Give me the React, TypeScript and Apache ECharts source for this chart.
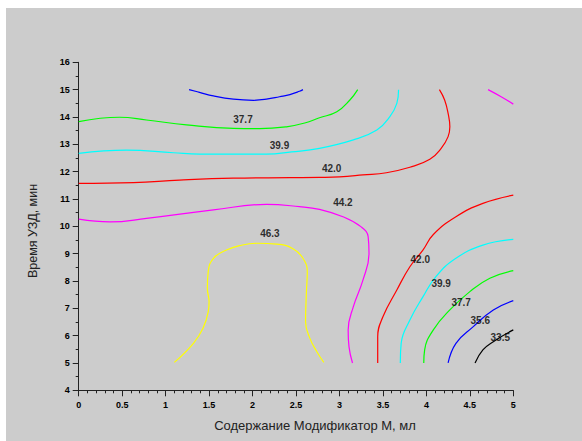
import React, { useEffect, useRef } from "react";
import * as echarts from "echarts";

// Contour levels and colours
const levels = [33.5, 35.6, 37.7, 39.9, 42.0, 44.2, 46.3];
const levelColors = ["#000000", "#0000ff", "#00ff00", "#00ffff", "#ff0000", "#ff00ff", "#ffff00"];

// Contour polylines [x, y]
const blueTop = [[1.27, 15.0], [1.39, 14.9], [1.55, 14.77], [1.78, 14.65], [2.01, 14.61], [2.16, 14.65], [2.31, 14.74], [2.43, 14.82], [2.54, 14.94], [2.58, 15.0]];
const greenTop = [[0, 13.83], [0.47, 13.99], [0.78, 13.89], [1.24, 13.71], [1.78, 13.58], [2.08, 13.57], [2.39, 13.64], [2.6, 13.78], [2.77, 13.97], [2.97, 14.19], [3.12, 14.62], [3.21, 15.0]];
const cyanTop = [[0, 12.67], [0.55, 12.79], [1.09, 12.69], [1.39, 12.64], [2.16, 12.64], [2.45, 12.72], [2.77, 12.85], [3.16, 13.16], [3.43, 13.52], [3.58, 14.01], [3.66, 14.5], [3.68, 15.0]];
const redTop = [[0, 11.57], [0.63, 11.6], [1.16, 11.69], [1.78, 11.76], [2.43, 11.78], [2.77, 11.79], [3.0, 11.81], [3.27, 11.88], [3.54, 11.96], [3.81, 12.16], [4.04, 12.45], [4.17, 12.85], [4.25, 13.28], [4.27, 13.64], [4.25, 14.13], [4.21, 14.62], [4.15, 15.0]];
const magentaTopRight = [[4.71, 15.0], [4.86, 14.74], [5.0, 14.47]];
const magentaMid = [[0, 10.26], [0.36, 10.16], [0.78, 10.29], [1.55, 10.6], [2.16, 10.8], [2.54, 10.72], [2.77, 10.62], [3.04, 10.35], [3.25, 9.98], [3.33, 9.62], [3.34, 9.01], [3.27, 8.03], [3.16, 7.06], [3.1, 6.21], [3.11, 5.59], [3.15, 5.0]];
const yellowMid = [[1.1, 5.02], [1.32, 5.72], [1.43, 6.27], [1.49, 6.87], [1.5, 7.24], [1.48, 7.73], [1.49, 8.34], [1.55, 8.83], [1.7, 9.13], [1.85, 9.29], [2.05, 9.38], [2.28, 9.35], [2.47, 9.17], [2.58, 8.83], [2.63, 8.34], [2.62, 7.61], [2.61, 6.51], [2.66, 5.9], [2.74, 5.41], [2.82, 5.02]];
const redLow = [[5.0, 11.14], [4.65, 10.84], [4.34, 10.35], [4.08, 9.7], [3.96, 9.13], [3.81, 8.52], [3.66, 7.67], [3.5, 6.69], [3.44, 5.96], [3.44, 5.0]];
const cyanLow = [[5.0, 9.52], [4.65, 9.31], [4.34, 8.83], [4.11, 8.16], [3.96, 7.42], [3.81, 6.57], [3.71, 5.72], [3.7, 5.0]];
const greenLow = [[5.0, 8.38], [4.73, 8.1], [4.5, 7.61], [4.27, 6.94], [4.08, 6.21], [3.98, 5.48], [3.97, 5.0]];
const blueLow = [[5.0, 7.28], [4.77, 6.94], [4.54, 6.33], [4.34, 5.72], [4.25, 5.0]];
const blackLow = [[5.0, 6.21], [4.77, 5.78], [4.65, 5.48], [4.56, 5.0]];

// Contour labels [x, y, level]
const contourLabels = [
  [1.89, 13.91, 37.7],
  [2.31, 12.96, 39.9],
  [2.91, 12.12, 42.0],
  [3.04, 10.86, 44.2],
  [2.2, 9.74, 46.3],
  [3.93, 8.8, 42.0],
  [4.17, 7.91, 39.9],
  [4.4, 7.2, 37.7],
  [4.62, 6.57, 35.6],
  [4.85, 5.94, 33.5],
];

const xTitle = "Содержание Модификатор М, мл";
const yTitle = "Время УЗД, мин";

const contours: [number, number[][]][] = [
  [35.6, blueTop],
  [37.7, greenTop],
  [39.9, cyanTop],
  [42.0, redTop],
  [44.2, magentaTopRight],
  [44.2, magentaMid],
  [46.3, yellowMid],
  [42.0, redLow],
  [39.9, cyanLow],
  [37.7, greenLow],
  [35.6, blueLow],
  [33.5, blackLow],
];

export default function App() {
  const ref = useRef<HTMLDivElement>(null);
  useEffect(() => {
    if (!ref.current) return;
    const chart = echarts.init(ref.current, null, { renderer: "svg" });
    const axisColor = "#222";
    const tickFont = { fontSize: 9, fontWeight: "bold", color: "#000", fontFamily: "Liberation Sans, Arial, sans-serif" };
    const series: any[] = contours.map(([lv, pts]) => ({
      type: "line",
      data: pts,
      showSymbol: false,
      symbol: "none",
      smooth: 0.45,
      lineStyle: { color: levelColors[levels.indexOf(lv)], width: 1.2 },
      silent: true,
      z: 2,
    }));
    series.push({
      type: "scatter",
      data: contourLabels,
      symbolSize: 1,
      itemStyle: { color: "rgba(0,0,0,0)" },
      label: {
        show: true,
        position: "inside",
        formatter: (p: any) => Number(p.value[2]).toFixed(1),
        color: "#000",
        fontSize: 10,
        fontWeight: "bold",
        fontFamily: "Liberation Sans, Arial, sans-serif",
      },
      silent: true,
      z: 5,
    });
    chart.setOption({
      animation: false,
      backgroundColor: "#cccccc",
      grid: { left: 72.7, right: 68.7, top: 54.3, bottom: 50.7, containLabel: false },
      xAxis: {
        type: "value",
        min: 0,
        max: 5,
        interval: 0.5,
        axisLine: { show: true, lineStyle: { color: axisColor, width: 1 } },
        axisTick: { show: true, length: 6, lineStyle: { color: axisColor } },
        minorTick: { show: true, splitNumber: 5, length: 3, lineStyle: { color: axisColor } },
        splitLine: { show: false },
        axisLabel: { ...tickFont, margin: 10 },
      },
      yAxis: {
        type: "value",
        min: 4,
        max: 16,
        interval: 1,
        axisLine: { show: true, lineStyle: { color: axisColor, width: 1 } },
        axisTick: { show: true, length: 6, lineStyle: { color: axisColor } },
        minorTick: { show: true, splitNumber: 2, length: 3, lineStyle: { color: axisColor } },
        splitLine: { show: false },
        axisLabel: { ...tickFont, margin: 9 },
      },
      graphic: [
        {
          type: "text",
          x: 309,
          y: 417,
          style: {
            text: xTitle,
            fill: "#222",
            fontSize: 13,
            fontFamily: "Liberation Sans, Arial, sans-serif",
            textAlign: "center",
            textVerticalAlign: "middle",
          },
        },
        {
          type: "text",
          x: 27,
          y: 223,
          rotation: Math.PI / 2,
          style: {
            text: yTitle,
            fill: "#222",
            fontSize: 12.5,
            fontFamily: "Liberation Sans, Arial, sans-serif",
            textAlign: "center",
            textVerticalAlign: "middle",
          },
        },
      ],
      series,
    });
    return () => chart.dispose();
  }, []);
  return (
    <div
      ref={ref}
      style={{ position: "absolute", left: 6, top: 8, width: 576, height: 433 }}
    />
  );
}
